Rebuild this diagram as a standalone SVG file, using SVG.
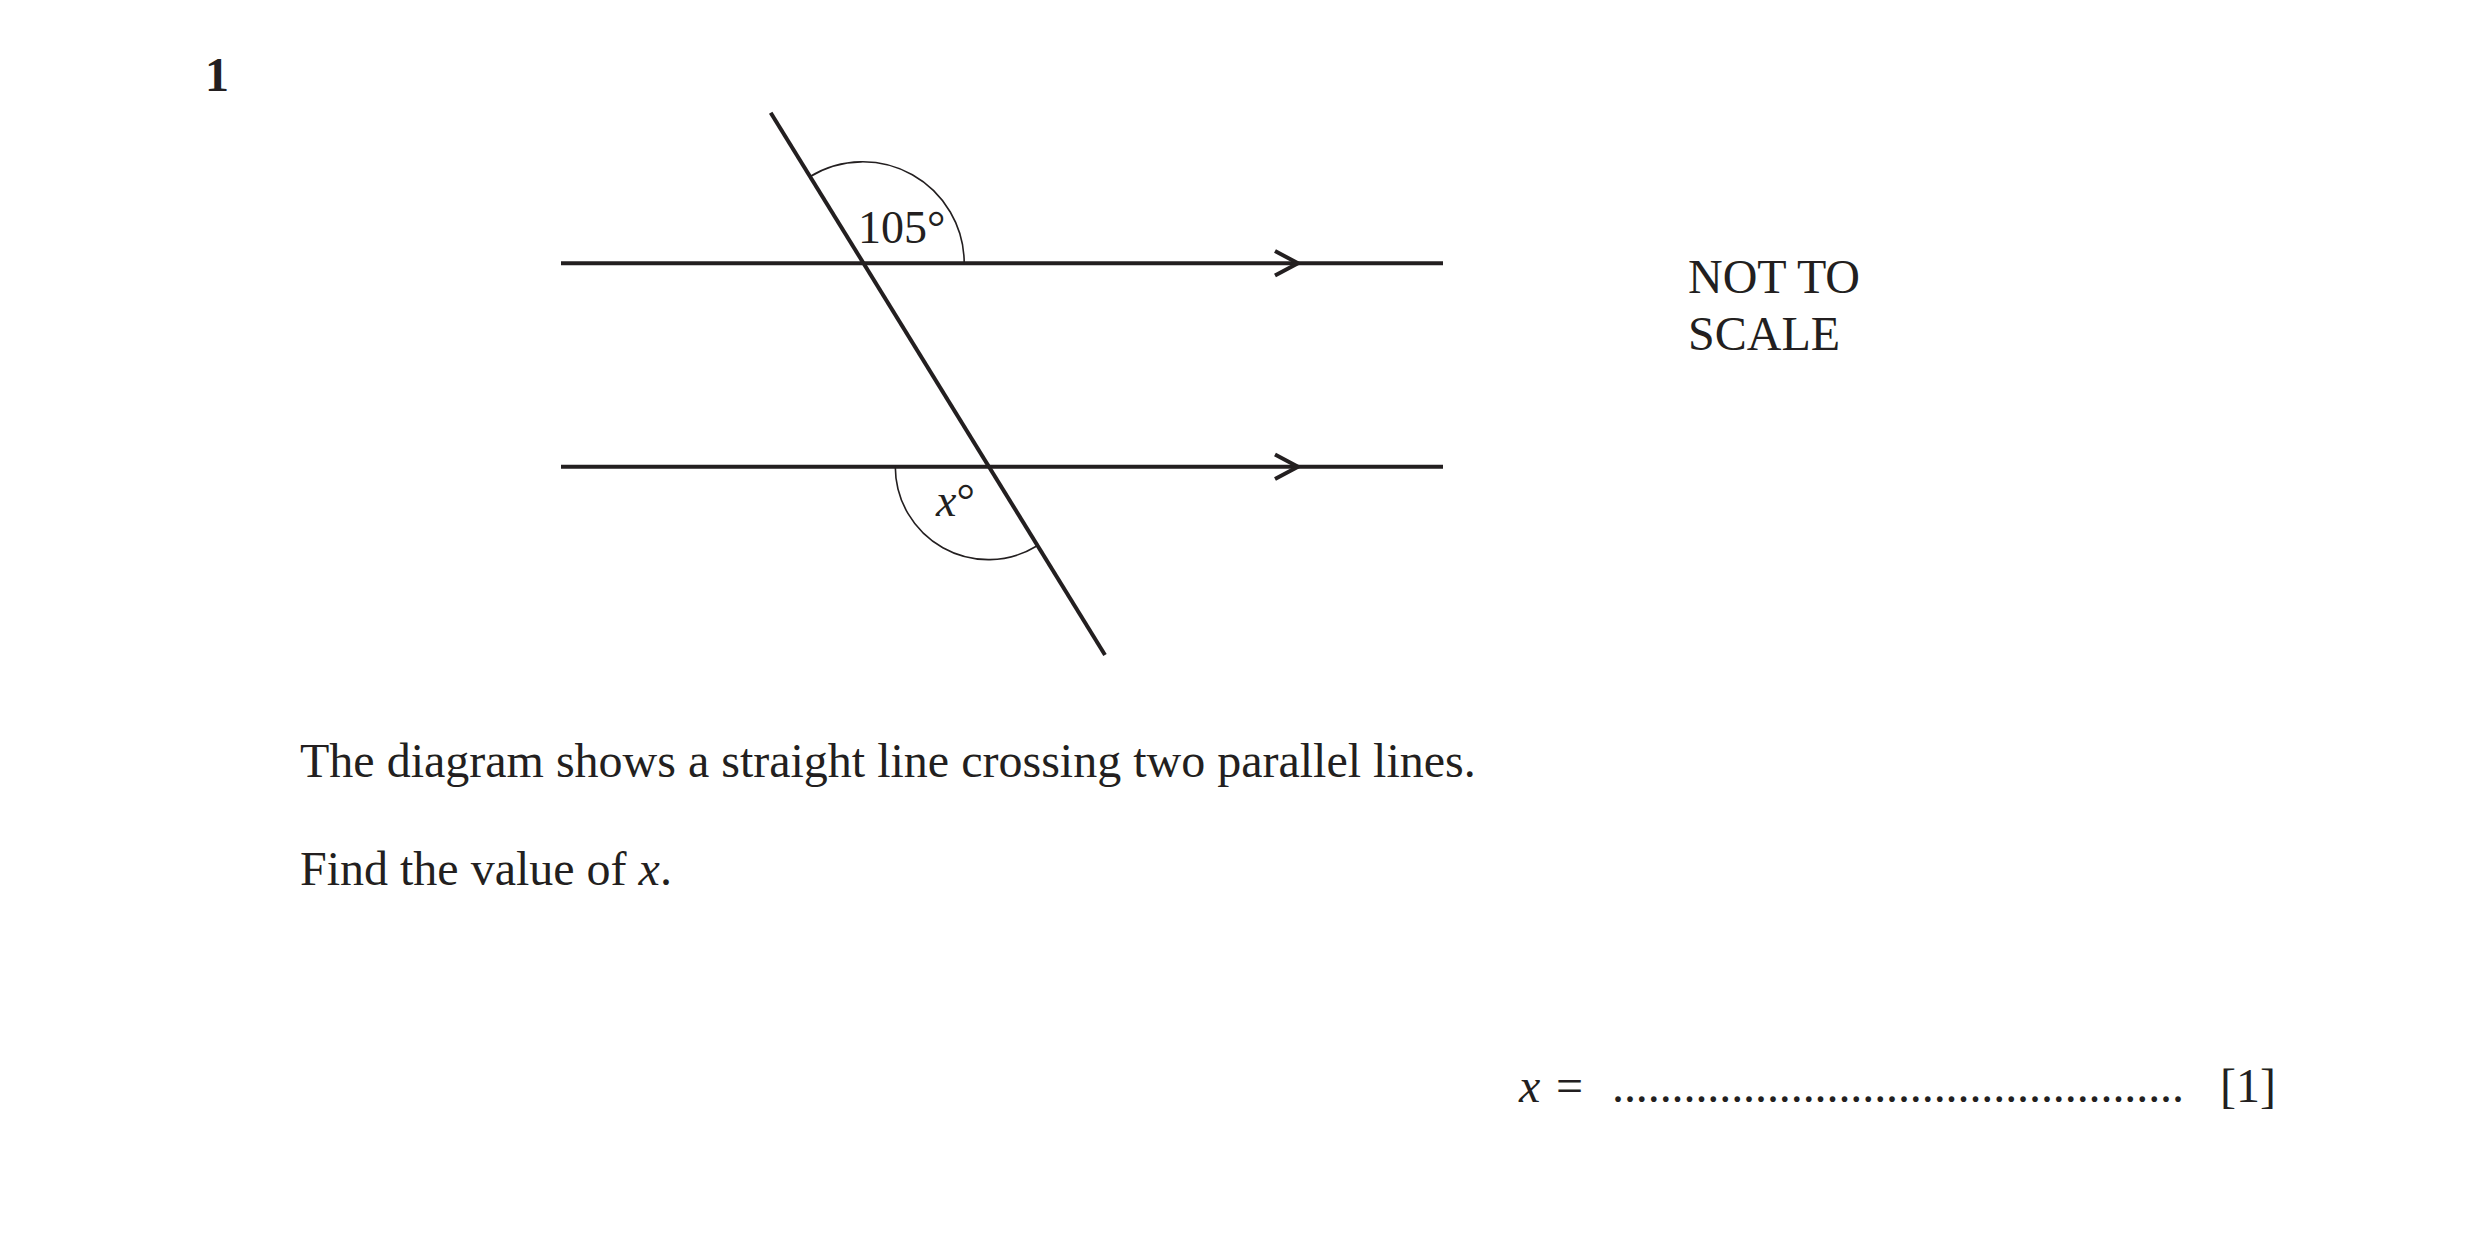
<svg xmlns="http://www.w3.org/2000/svg" width="2481" height="1258" viewBox="0 0 2481 1258">
<style>
  text { font-family: "Liberation Serif", "Times New Roman", serif; font-size: 48px; fill: #231f20; }
  .lbl { font-size: 46px; }
  .it { font-style: italic; }
  .bold { font-weight: bold; }
  .thick { stroke: #231f20; stroke-width: 4; fill: none; stroke-linecap: butt; }
  .arc { stroke: #231f20; stroke-width: 1.6; fill: none; }
</style>
<rect x="0" y="0" width="2481" height="1258" fill="#ffffff"/>
<text id="qnum" class="bold" x="205" y="91">1</text>
<g id="connectors">
  <line id="line-upper" class="thick" x1="561" y1="263.3" x2="1443" y2="263.3"/>
  <line id="line-lower" class="thick" x1="561" y1="466.7" x2="1443" y2="466.7"/>
  <polyline id="arrow-upper" class="thick" points="1275,251 1298,263.3 1275,275.6"/>
  <polyline id="arrow-lower" class="thick" points="1275,454.4 1298,466.7 1275,479"/>
  <line id="transversal" class="thick" x1="770.7" y1="112.7" x2="1105" y2="655"/>
</g>
<g id="angle-105">
  <path class="arc" d="M 809.8 176.7 A 101.5 101.5 0 0 1 964.2 263.3"/>
  <text class="lbl" x="858" y="243">105°</text>
</g>
<g id="angle-x">
  <path class="arc" d="M 895.3 466.7 A 93 93 0 0 0 1036.8 546"/>
  <text class="lbl" x="936" y="516"><tspan class="it">x</tspan>°</text>
</g>
<g id="note">
  <text x="1688" y="293">NOT TO</text>
  <text x="1688" y="350">SCALE</text>
</g>
<g id="question">
  <text x="300" y="777">The diagram shows a straight line crossing two parallel lines.</text>
  <text x="300" y="885">Find the value of <tspan class="it">x</tspan>.</text>
</g>
<g id="answer">
  <text class="it" x="1519" y="1102">x</text>
  <text x="1556" y="1102">=</text>
  <text x="1612" y="1102" textLength="572" lengthAdjust="spacing">................................................</text>
  <text x="2220" y="1102">[1]</text>
</g>
</svg>
